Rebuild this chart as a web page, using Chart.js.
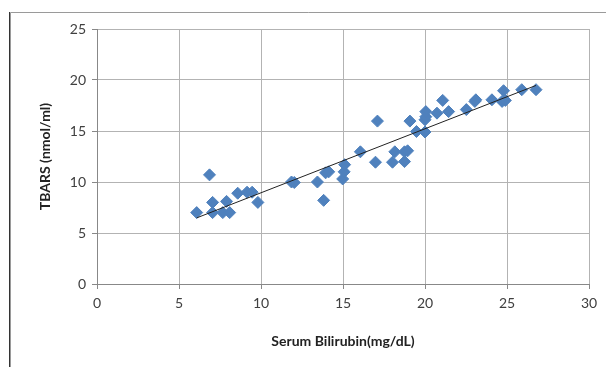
<!DOCTYPE html>
<html>
<head>
<meta charset="utf-8">
<script src="https://cdn.jsdelivr.net/npm/chart.js@4"></script>
<style>
  html, body { margin: 0; padding: 0; background: #fff; }
  #wrap { width: 606px; height: 367px; }
</style>
</head>
<body>
<div id="wrap"><canvas id="myChart" width="606" height="367"></canvas></div>
<script>
// Serum bilirubin (mg/dL) vs TBARS (nmol/ml)
const bilirubin = [6.08, 6.86, 7.05, 7.05, 7.67, 7.9, 8.09, 8.58, 9.15, 9.46, 9.81,
  11.86, 12.03, 13.44, 13.82, 13.94, 14.13, 14.98, 15.07, 15.1, 16.06, 16.98, 17.1,
  18.02, 18.16, 18.75, 18.75, 18.94, 19.08, 19.48, 20.0, 20.0, 20.05, 20.05, 20.73,
  21.08, 21.44, 22.52, 23.04, 23.1, 24.08, 24.7, 24.79, 24.9, 25.9, 26.77];
const tbars = [7.0, 10.7, 8.0, 7.0, 7.0, 8.1, 7.0, 8.9, 9.0, 9.0, 8.0,
  10.0, 9.95, 10.0, 8.2, 10.9, 11.0, 10.3, 11.0, 11.7, 12.96, 11.94, 15.97,
  11.94, 12.96, 12.0, 12.96, 13.06, 15.97, 14.95, 14.9, 16.1, 16.4, 16.9, 16.75,
  18.0, 16.9, 17.1, 17.9, 18.06, 18.06, 17.9, 18.95, 18.0, 19.05, 19.05];

const xTicks = [0, 5, 10, 15, 20, 25, 30];
const yTicks = [0, 5, 10, 15, 20, 25];

// linear trendline (least squares, like the spreadsheet trendline)
let n = bilirubin.length, sx = 0, sy = 0, sxx = 0, sxy = 0;
for (let i = 0; i < n; i++) {
  sx += bilirubin[i]; sy += tbars[i];
  sxx += bilirubin[i] * bilirubin[i]; sxy += bilirubin[i] * tbars[i];
}
const slope = (n * sxy - sx * sy) / (n * sxx - sx * sx);
const intercept = (sy - slope * sx) / n;
const xMin = Math.min(...bilirubin), xMax = Math.max(...bilirubin);
const trend = [
  { x: xMin, y: intercept + slope * xMin },
  { x: xMax, y: intercept + slope * xMax }
];

let points = [];
for (let i = 0; i < n; i++) {
  points.push({ x: bilirubin[i], y: tbars[i] });
}

// outer chart border (left and top edges only are visible)
const frame = {
  id: 'frame',
  afterDraw(chart) {
    const c = chart.ctx;
    c.save();
    c.strokeStyle = '#9a9a9a';
    c.lineWidth = 1;
    c.beginPath();
    c.moveTo(10.5, 367);
    c.lineTo(10.5, 12.5);
    c.lineTo(606, 12.5);
    c.stroke();
    c.strokeStyle = '#333';
    c.beginPath();
    c.moveTo(9.5, 367);
    c.lineTo(9.5, 12);
    c.stroke();
    c.restore();
  }
};

const ctx = document.getElementById('myChart');
new Chart(ctx, {
  type: 'scatter',
  data: {
    datasets: [{
      label: 'TBARS',
      data: points,
      pointStyle: 'rectRot',
      pointRadius: 6,
      pointHoverRadius: 6,
      backgroundColor: '#4F81BD',
      borderColor: '#4F81BD',
      borderWidth: 1,
      order: 2
    }, {
      type: 'line',
      label: 'Linear',
      data: trend,
      borderColor: '#222',
      borderWidth: 1,
      pointRadius: 0,
      fill: false,
      order: 1
    }]
  },
  options: {
    responsive: false,
    animation: false,
    layout: { padding: { left: 12, top: 29, right: 17, bottom: 0 } },
    plugins: { legend: { display: false }, tooltip: { enabled: false } },
    scales: {
      x: {
        type: 'linear', min: 0, max: 30,
        afterBuildTicks(axis) { axis.ticks = xTicks.map(v => ({ value: v })); },
        afterFit(axis) { axis.height = 83; },
        grid: { color: '#b3b3b3', tickLength: 5, tickColor: '#888' },
        border: { color: '#888' },
        ticks: { color: '#404040', font: { family: 'Lato', size: 14 }, padding: 6 },
        title: {
          display: true, text: 'Serum Bilirubin(mg/dL)', color: '#222',
          font: { family: 'Lato', size: 14, weight: 'bold' },
          padding: { top: 0, bottom: 17 }
        }
      },
      y: {
        type: 'linear', min: 0, max: 25,
        afterBuildTicks(axis) { axis.ticks = yTicks.map(v => ({ value: v })); },
        afterFit(axis) { axis.width = 85; },
        grid: { color: '#b3b3b3', tickLength: 5, tickColor: '#888' },
        border: { color: '#888' },
        ticks: { color: '#404040', font: { family: 'Lato', size: 14 }, padding: 6 },
        title: {
          display: true, text: 'TBARS (nmol/ml)', color: '#222',
          font: { family: 'Lato', size: 14, weight: 'bold' },
          padding: { top: 25, bottom: 0 }
        }
      }
    }
  },
  plugins: [frame]
});
</script>
</body>
</html>
